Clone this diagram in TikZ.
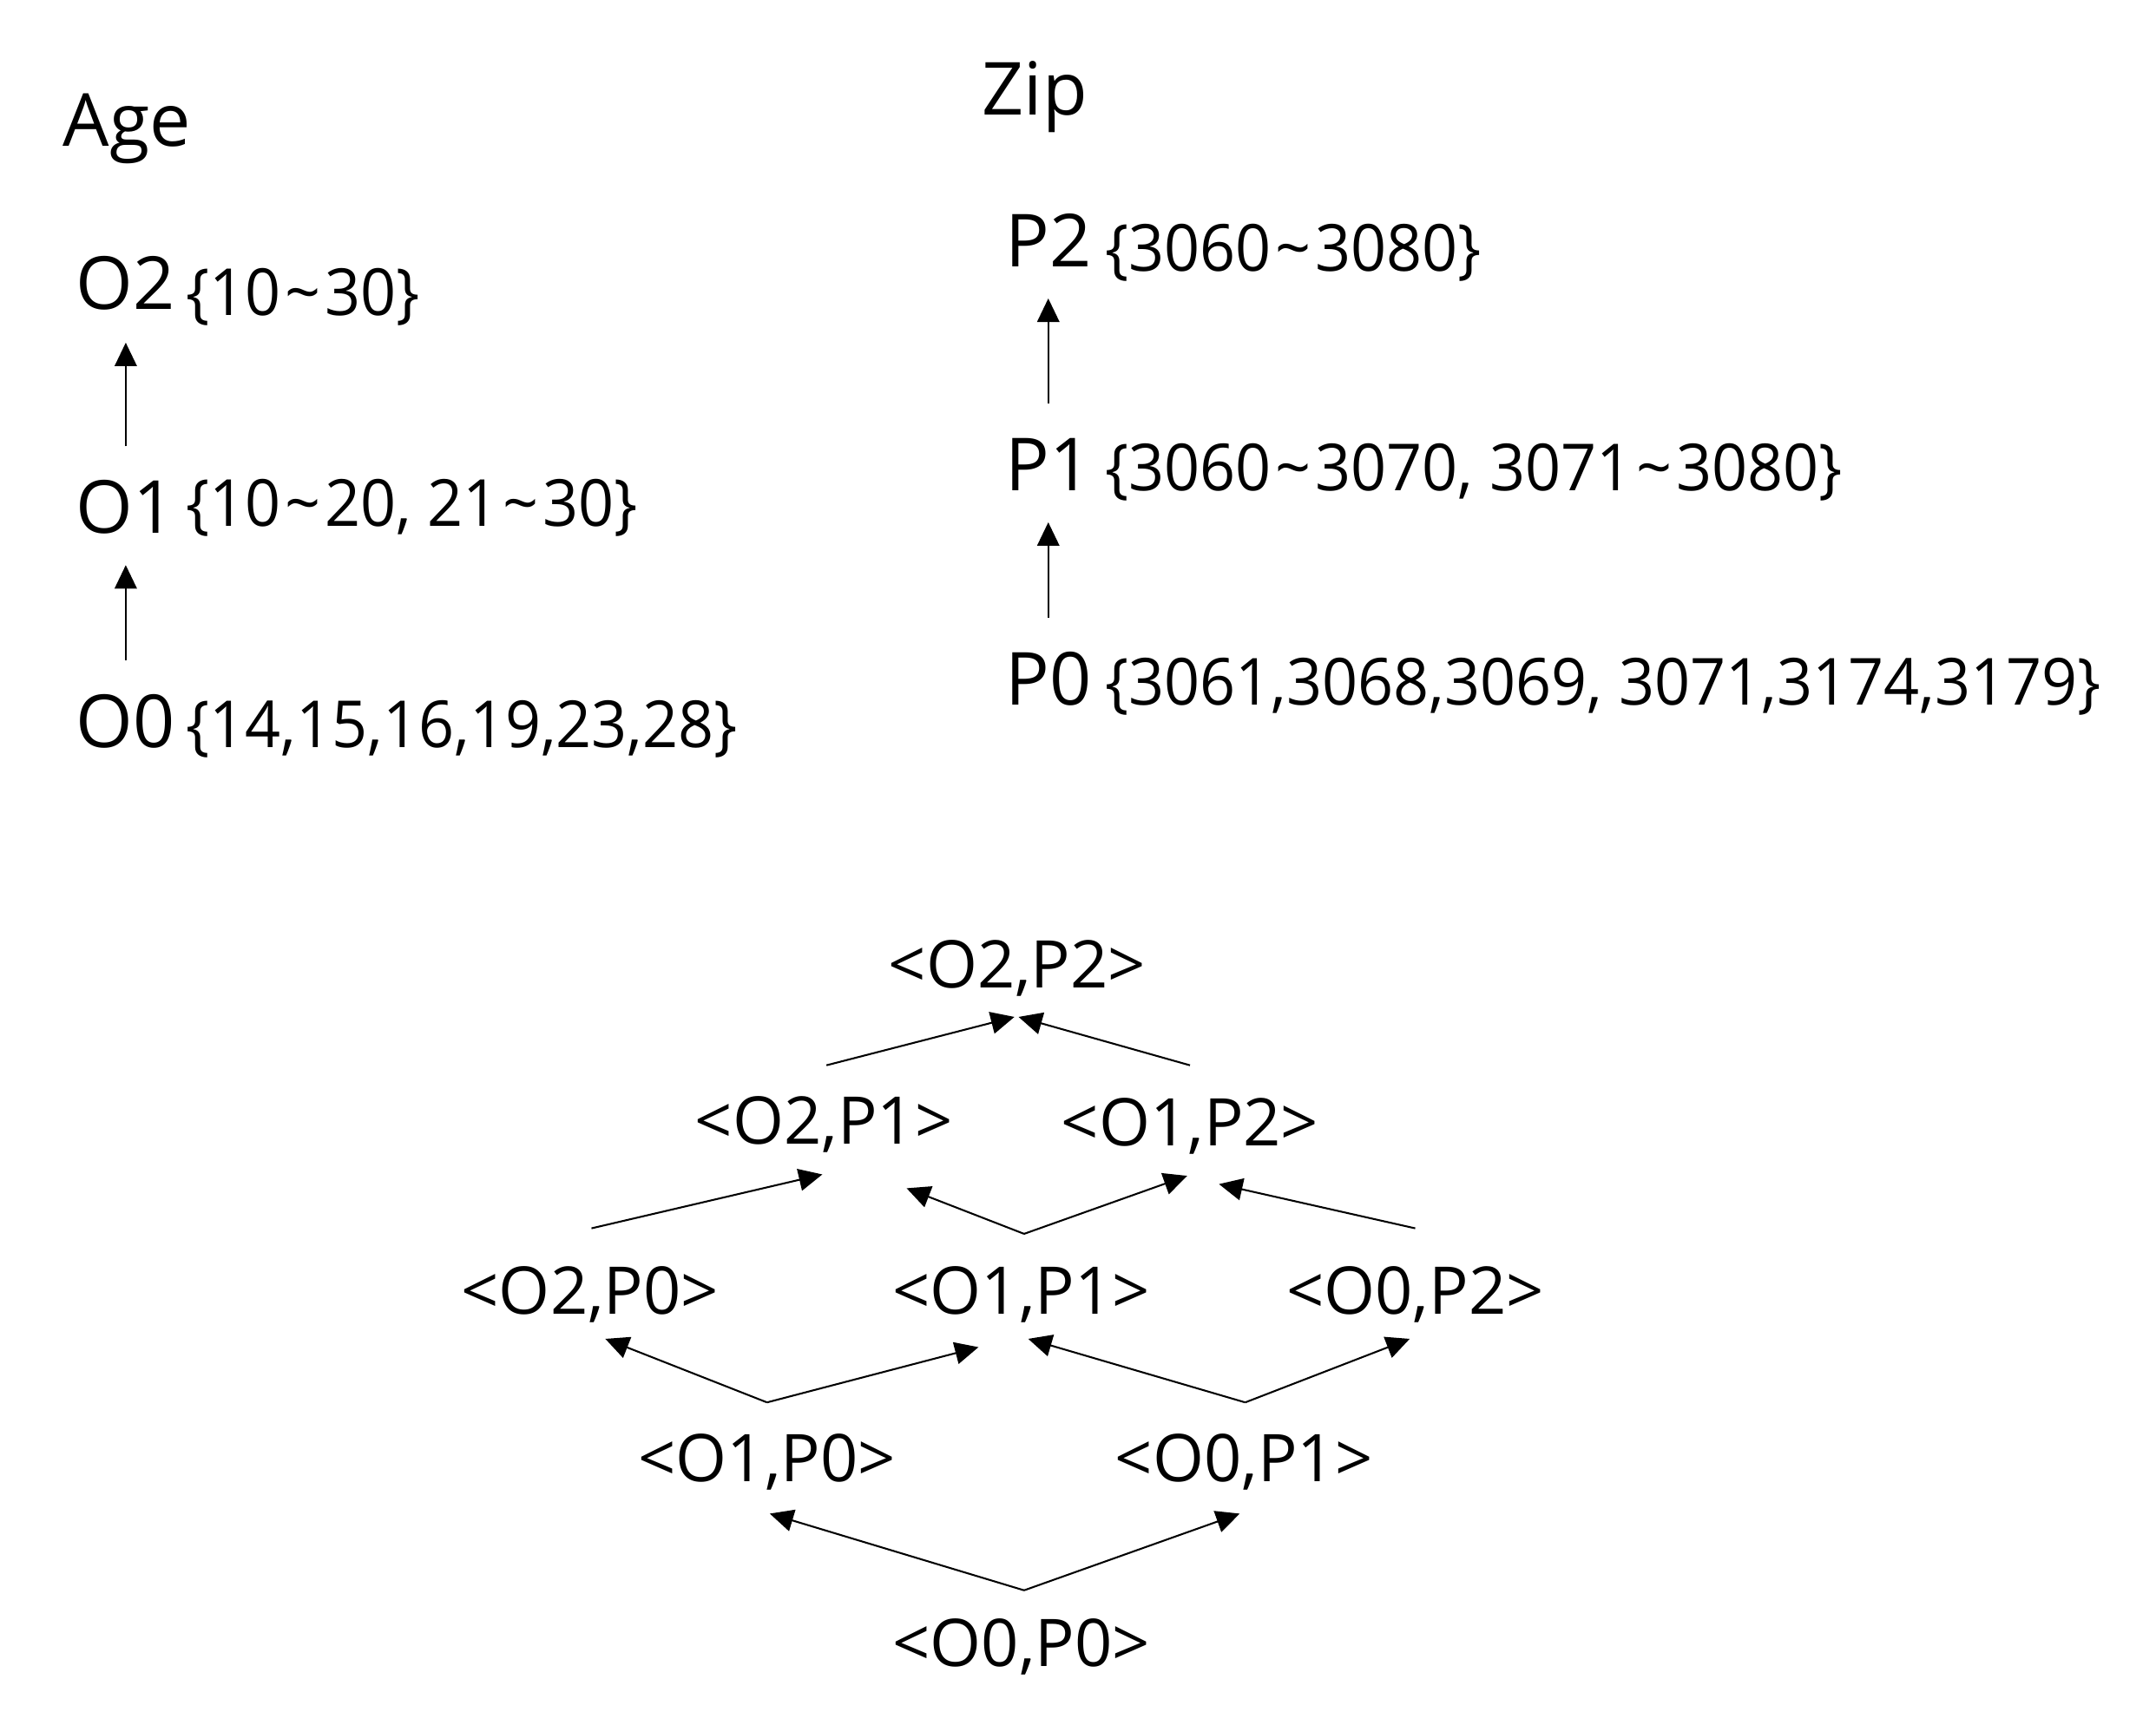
\documentclass[tikz,border=0pt]{standalone}
\usepackage{fontspec}
\setmainfont{Open Sans}
\newfontfamily\valfam[FakeStretch=0.96]{Open Sans}
\usetikzlibrary{calc,arrows.meta}
\newcommand{\hierfont}{\fontsize{26.5}{32}\selectfont}
\newcommand{\valfont}{\valfam\fontsize{23.5}{28}\selectfont}
\newcommand{\latfont}{\fontsize{23.8}{28}\selectfont}
\newcommand{\rng}{\kern1.5pt\textasciitilde\kern1.5pt}

\begin{document}
\begin{tikzpicture}[x=0.5pt,y=0.5pt,inner sep=0pt,line width=0.65pt,
  arr/.style={-{Triangle[length=8.5pt,width=8pt]}},
  lvl/.style={anchor=base,font=\hierfont},
  vals/.style={anchor=base west,font=\valfont},
  lat/.style={anchor=base,font=\latfont}]
\useasboundingbox (0,0) rectangle (1560,-1238.5);
% age hierarchy
\node[anchor=base west,font=\hierfont] (age) at (45,-106) {Age};
\node[lvl] (o2) at (91,-224) {O2};
\node[lvl] (o1) at (91,-386) {O1};
\node[lvl] (o0) at (91,-541) {O0};
\node[vals] (o2v) at (134,-228) {\{10\rng30\}};
\node[vals] (o1v) at (134,-381) {\{10\rng20, 21\rng30\}};
\node[vals] (o0v) at (134,-541) {\{14,15,16,19,23,28\}};
\draw[arr] ($(o1.base)+(0,63)$) -- ($(o2.base)+(0,-24)$);
\draw[arr] ($(o0.base)+(0,63)$) -- ($(o1.base)+(0,-23)$);
% zip hierarchy
\node[anchor=base west,font=\hierfont] (zip) at (710,-83) {Zip};
\node[lvl] (p2) at (758.5,-193) {P2};
\node[lvl] (p1) at (758.5,-355) {P1};
\node[lvl] (p0) at (758.5,-510) {P0};
\node[vals] (p2v) at (799,-196.5) {\{3060\rng3080\}};
\node[vals] (p1v) at (799,-355) {\{3060\rng3070, 3071\rng3080\}};
\node[vals] (p0v) at (799,-510) {\{3061,3068,3069, 3071,3174,3179\}};
\draw[arr] ($(p1.base)+(0,63)$) -- ($(p2.base)+(0,-23)$);
\draw[arr] ($(p0.base)+(0,63)$) -- ($(p1.base)+(0,-23)$);
% lattice
\node[lat] (o2p2) at (736,-715) {<O2,P2>};
\node[lat] (o2p1) at (596,-828) {<O2,P1>};
\node[lat] (o1p2) at (861,-829) {<O1,P2>};
\node[lat] (o2p0) at (427,-951) {<O2,P0>};
\node[lat] (o1p1) at (739,-951) {<O1,P1>};
\node[lat] (o0p2) at (1024,-951) {<O0,P2>};
\node[lat] (o1p0) at (555,-1072.5) {<O1,P0>};
\node[lat] (o0p1) at (900,-1072.5) {<O0,P1>};
\node[lat] (o0p0) at (739,-1206) {<O0,P0>};
\coordinate (f11) at ($(o1p1.base)+(2,58)$);
\coordinate (f10) at ($(o1p0.base)+(0,57.5)$);
\coordinate (f01) at ($(o0p1.base)+(1,57.5)$);
\coordinate (f00) at ($(o0p0.base)+(2,55)$);
\draw[arr] ($(o2p1.base)+(2,57)$) -- ($(o2p2.base)+(-2,-21)$);
\draw[arr] ($(o1p2.base)+(0,58)$) -- ($(o2p2.base)+(1,-21)$);
\draw[arr] ($(o2p0.base)+(1,62)$) -- ($(o2p1.base)+(-1,-22)$);
\draw[arr] (f11) -- ($(o2p1.base)+(60,-32)$);
\draw[arr] (f11) -- ($(o1p2.base)+(-2,-22)$);
\draw[arr] ($(o0p2.base)+(0,62)$) -- ($(o1p2.base)+(21,-28)$);
\draw[arr] (f10) -- ($(o2p0.base)+(11,-18)$);
\draw[arr] (f10) -- ($(o1p1.base)+(-31,-24)$);
\draw[arr] (f01) -- ($(o1p1.base)+(5,-18)$);
\draw[arr] (f01) -- ($(o0p2.base)+(-4,-18)$);
\draw[arr] (f00) -- ($(o1p0.base)+(2,-23)$);
\draw[arr] (f00) -- ($(o0p1.base)+(-3,-23)$);
\end{tikzpicture}
\end{document}
